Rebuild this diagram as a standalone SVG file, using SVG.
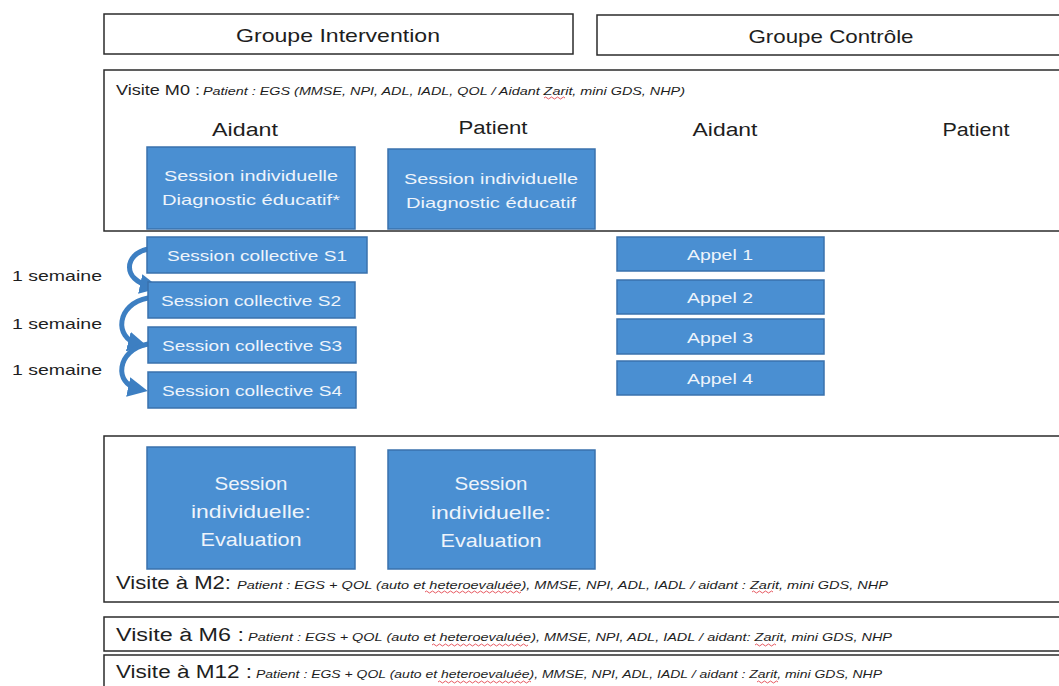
<svg xmlns="http://www.w3.org/2000/svg" width="1059" height="686" viewBox="0 0 1059 686">
<style>
.frame{fill:#fff;stroke:#2b2b2b;stroke-width:1.5}
.blue{fill:#4a8fd2;stroke:#3a72ad;stroke-width:1.5}
.t{font-family:"Liberation Sans",Arial,sans-serif;fill:#1e1e1e}
.w{font-family:"Liberation Sans",Arial,sans-serif;fill:#eef4fb}
.it{font-family:"Liberation Sans",Arial,sans-serif;font-style:italic;fill:#1e1e1e;font-size:10.5px}
.sq{fill:none;stroke:#e0303a;stroke-width:0.8}
.arc{fill:none;stroke:#3d7fc2;stroke-width:5;stroke-linecap:round}
</style>
<defs>
<marker id="ah" markerWidth="4" markerHeight="4" refX="2" refY="2" orient="auto" markerUnits="strokeWidth">
<path d="M0,0 L4,2 L0,4 z" fill="#3d7fc2"/>
</marker>
</defs>
<rect width="1059" height="686" fill="#fff"/>

<g id="groupe-intervention">
<rect class="frame" x="104" y="14" width="469" height="40"/>
<text class="t" x="338" y="42" font-size="19" text-anchor="middle" textLength="204" lengthAdjust="spacingAndGlyphs">Groupe Intervention</text>
</g>
<g id="groupe-controle">
<rect class="frame" x="597" y="15" width="470" height="40"/>
<text class="t" x="831" y="43" font-size="19" text-anchor="middle" textLength="165" lengthAdjust="spacingAndGlyphs">Groupe Contrôle</text>
</g>

<g id="visite-m0">
<rect class="frame" x="104" y="70" width="965" height="161"/>
<text x="116" y="95"><tspan class="t" font-size="14" textLength="84" lengthAdjust="spacingAndGlyphs">Visite M0 :</tspan></text>
<text class="it" x="203" y="95" textLength="482" lengthAdjust="spacingAndGlyphs">Patient : EGS  (MMSE, NPI, ADL, IADL, QOL / Aidant Zarit, mini GDS, NHP)</text>
<path class="sq" d="M544,98 q1.5,-2 3,0 t3,0 t3,0 t3,0 t3,0 t3,0 t3,0"/>
<text class="t" x="245" y="136" font-size="18" text-anchor="middle" textLength="66" lengthAdjust="spacingAndGlyphs">Aidant</text>
<text class="t" x="493" y="134" font-size="18" text-anchor="middle" textLength="69" lengthAdjust="spacingAndGlyphs">Patient</text>
<text class="t" x="725" y="136" font-size="18" text-anchor="middle" textLength="65" lengthAdjust="spacingAndGlyphs">Aidant</text>
<text class="t" x="976" y="136" font-size="18" text-anchor="middle" textLength="67" lengthAdjust="spacingAndGlyphs">Patient</text>
</g>

<g id="aidant-diagnostic">
<rect class="blue" x="147" y="147" width="208" height="82"/>
<text class="w" x="251" y="181" font-size="15" text-anchor="middle" textLength="174" lengthAdjust="spacingAndGlyphs">Session individuelle</text>
<text class="w" x="251" y="205" font-size="15" text-anchor="middle" textLength="178" lengthAdjust="spacingAndGlyphs">Diagnostic éducatif*</text>
</g>
<g id="patient-diagnostic">
<rect class="blue" x="388" y="149" width="207" height="80"/>
<text class="w" x="491" y="184" font-size="15" text-anchor="middle" textLength="174" lengthAdjust="spacingAndGlyphs">Session individuelle</text>
<text class="w" x="491" y="208" font-size="15" text-anchor="middle" textLength="170" lengthAdjust="spacingAndGlyphs">Diagnostic éducatif</text>
</g>

<g id="connectors">
<path class="arc" d="M148,249 C124,254 122,280 150,286" marker-end="url(#ah)"/>
<path class="arc" d="M148,298 C116,304 114,338 138,344" marker-end="url(#ah)"/>
<path class="arc" d="M148,344 C116,350 114,384 138,389" marker-end="url(#ah)"/>
</g>

<g id="session-s1">
<rect class="blue" x="147" y="237" width="220" height="36"/>
<text class="w" x="257" y="261" font-size="15" text-anchor="middle" textLength="180" lengthAdjust="spacingAndGlyphs">Session collective S1</text>
</g>
<g id="session-s2">
<rect class="blue" x="148" y="282" width="207" height="36"/>
<text class="w" x="251" y="306" font-size="15" text-anchor="middle" textLength="180" lengthAdjust="spacingAndGlyphs">Session collective S2</text>
</g>
<g id="session-s3">
<rect class="blue" x="148" y="327" width="208" height="36"/>
<text class="w" x="252" y="351" font-size="15" text-anchor="middle" textLength="180" lengthAdjust="spacingAndGlyphs">Session collective S3</text>
</g>
<g id="session-s4">
<rect class="blue" x="148" y="372" width="208" height="36"/>
<text class="w" x="252" y="396" font-size="15" text-anchor="middle" textLength="180" lengthAdjust="spacingAndGlyphs">Session collective S4</text>
</g>

<g id="labels-semaine">
<text class="t" x="12" y="281" font-size="15" textLength="90" lengthAdjust="spacingAndGlyphs">1 semaine</text>
<text class="t" x="12" y="329" font-size="15" textLength="90" lengthAdjust="spacingAndGlyphs">1 semaine</text>
<text class="t" x="12" y="375" font-size="15" textLength="90" lengthAdjust="spacingAndGlyphs">1 semaine</text>
</g>

<g id="appel-1">
<rect class="blue" x="617" y="237" width="207" height="34"/>
<text class="w" x="720" y="260" font-size="15" text-anchor="middle" textLength="66" lengthAdjust="spacingAndGlyphs">Appel 1</text>
</g>
<g id="appel-2">
<rect class="blue" x="617" y="280" width="207" height="34"/>
<text class="w" x="720" y="303" font-size="15" text-anchor="middle" textLength="66" lengthAdjust="spacingAndGlyphs">Appel 2</text>
</g>
<g id="appel-3">
<rect class="blue" x="617" y="319" width="207" height="35"/>
<text class="w" x="720" y="343" font-size="15" text-anchor="middle" textLength="66" lengthAdjust="spacingAndGlyphs">Appel 3</text>
</g>
<g id="appel-4">
<rect class="blue" x="617" y="361" width="207" height="34"/>
<text class="w" x="720" y="384" font-size="15" text-anchor="middle" textLength="66" lengthAdjust="spacingAndGlyphs">Appel 4</text>
</g>

<g id="visite-m2">
<rect class="frame" x="104" y="436" width="965" height="166"/>
<text class="t" x="116" y="589" font-size="18" textLength="115" lengthAdjust="spacingAndGlyphs">Visite à M2:</text>
<text class="it" x="237" y="589" textLength="651" lengthAdjust="spacingAndGlyphs">Patient : EGS + QOL (auto et heteroevaluée), MMSE, NPI, ADL, IADL  / aidant : Zarit, mini GDS, NHP</text>
<path class="sq" d="M425,592 q1.5,-2 3,0 t3,0 t3,0 t3,0 t3,0 t3,0 t3,0 t3,0 t3,0 t3,0 t3,0 t3,0 t3,0 t3,0 t3,0 t3,0 t3,0 t3,0 t3,0 t3,0 t3,0 t3,0 t3,0 t3,0 t3,0 t3,0 t3,0 t3,0 t3,0 t3,0 t3,0 t3,0"/>
<path class="sq" d="M752,592 q1.5,-2 3,0 t3,0 t3,0 t3,0 t3,0 t3,0 t3,0"/>
</g>

<g id="aidant-evaluation">
<rect class="blue" x="147" y="447" width="208" height="122"/>
<text class="w" x="251" y="490" font-size="19" text-anchor="middle" textLength="73" lengthAdjust="spacingAndGlyphs">Session</text>
<text class="w" x="251" y="518" font-size="19" text-anchor="middle" textLength="120" lengthAdjust="spacingAndGlyphs">individuelle:</text>
<text class="w" x="251" y="546" font-size="19" text-anchor="middle" textLength="101" lengthAdjust="spacingAndGlyphs">Evaluation</text>
</g>
<g id="patient-evaluation">
<rect class="blue" x="388" y="450" width="207" height="119"/>
<text class="w" x="491" y="490" font-size="19" text-anchor="middle" textLength="73" lengthAdjust="spacingAndGlyphs">Session</text>
<text class="w" x="491" y="519" font-size="19" text-anchor="middle" textLength="120" lengthAdjust="spacingAndGlyphs">individuelle:</text>
<text class="w" x="491" y="547" font-size="19" text-anchor="middle" textLength="101" lengthAdjust="spacingAndGlyphs">Evaluation</text>
</g>

<g id="visite-m6">
<rect class="frame" x="104" y="617" width="965" height="34"/>
<text class="t" x="116" y="641" font-size="18" textLength="128" lengthAdjust="spacingAndGlyphs">Visite à M6 :</text>
<text class="it" x="248" y="641" textLength="644" lengthAdjust="spacingAndGlyphs">Patient : EGS + QOL (auto et heteroevaluée), MMSE, NPI, ADL, IADL  / aidant: Zarit, mini GDS, NHP</text>
<path class="sq" d="M432,645 q1.5,-2 3,0 t3,0 t3,0 t3,0 t3,0 t3,0 t3,0 t3,0 t3,0 t3,0 t3,0 t3,0 t3,0 t3,0 t3,0 t3,0 t3,0 t3,0 t3,0 t3,0 t3,0 t3,0 t3,0 t3,0 t3,0 t3,0 t3,0 t3,0 t3,0 t3,0 t3,0 t3,0"/>
<path class="sq" d="M755,645 q1.5,-2 3,0 t3,0 t3,0 t3,0 t3,0 t3,0 t3,0"/>
</g>

<g id="visite-m12">
<rect class="frame" x="104" y="655" width="965" height="40"/>
<text class="t" x="116" y="678" font-size="18" textLength="136" lengthAdjust="spacingAndGlyphs">Visite à M12 :</text>
<text class="it" x="256" y="678" textLength="626" lengthAdjust="spacingAndGlyphs">Patient : EGS + QOL (auto et heteroevaluée), MMSE, NPI, ADL, IADL  / aidant : Zarit, mini GDS, NHP</text>
<path class="sq" d="M438,682 q1.5,-2 3,0 t3,0 t3,0 t3,0 t3,0 t3,0 t3,0 t3,0 t3,0 t3,0 t3,0 t3,0 t3,0 t3,0 t3,0 t3,0 t3,0 t3,0 t3,0 t3,0 t3,0 t3,0 t3,0 t3,0 t3,0 t3,0 t3,0 t3,0 t3,0 t3,0 t3,0"/>
<path class="sq" d="M757,682 q1.5,-2 3,0 t3,0 t3,0 t3,0 t3,0 t3,0 t3,0"/>
</g>
</svg>
